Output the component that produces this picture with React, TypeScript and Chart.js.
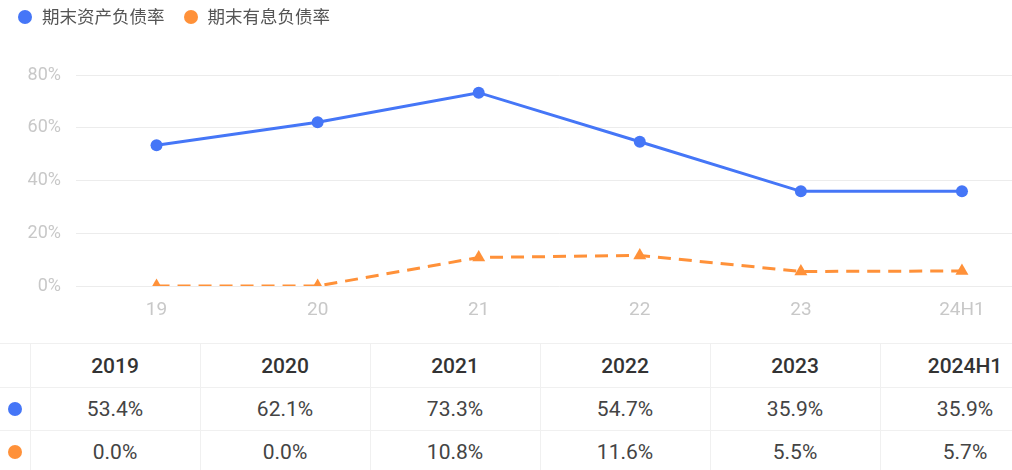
import React, { useEffect, useRef } from "react";
import { Chart, registerables } from "chart.js";

Chart.register(...registerables);

const xLabels = ["19", "20", "21", "22", "23", "24H1"];
const tableHeaders = ["2019", "2020", "2021", "2022", "2023", "2024H1"];
const assetDebtRatio = [53.4, 62.1, 73.3, 54.7, 35.9, 35.9];
const interestDebtRatio = [0.0, 0.0, 10.8, 11.6, 5.5, 5.7];
const seriesNames = ["期末资产负债率", "期末有息负债率"];
const yTicks = [0, 20, 40, 60, 80];

const BLUE = "#4576F7";
const ORANGE = "#FF9139";
const FONT = "Roboto, 'Noto Sans CJK SC', sans-serif";

export default function App() {
  const ref = useRef<HTMLCanvasElement>(null);

  useEffect(() => {
    document.body.style.margin = "0";
    const chart = new Chart(ref.current!, {
      type: "line",
      data: {
        labels: xLabels,
        datasets: [
          {
            label: seriesNames[0],
            data: assetDebtRatio,
            borderColor: BLUE,
            backgroundColor: BLUE,
            borderWidth: 3,
            pointRadius: 6,
            pointStyle: "circle",
            pointBorderWidth: 0,
            tension: 0,
          },
          {
            label: seriesNames[1],
            data: interestDebtRatio,
            borderColor: ORANGE,
            backgroundColor: ORANGE,
            borderWidth: 3,
            borderDash: [13, 8],
            pointRadius: 7.5,
            pointStyle: "triangle",
            pointBorderWidth: 0,
            tension: 0,
          },
        ],
      },
      options: {
        animation: false,
        responsive: false,
        maintainAspectRatio: false,
        layout: { padding: { top: 75, right: 0, bottom: 0, left: 0 } },
        plugins: { legend: { display: false }, tooltip: { enabled: false } },
        scales: {
          x: {
            type: "category",
            offset: true,
            grid: { display: false, drawTicks: false },
            border: { display: false },
            ticks: { color: "#c8c8c8", font: { size: 19, family: FONT }, padding: 13, maxRotation: 0 },
            afterFit: (s: any) => {
              s.height = 57;
            },
          },
          y: {
            min: 0,
            max: 80,
            afterBuildTicks: (s: any) => {
              s.ticks = yTicks.map((v) => ({ value: v }));
            },
            grid: { color: "#ececec", lineWidth: 1, drawTicks: false },
            border: { display: false },
            ticks: {
              color: "#c8c8c8",
              font: { size: 18, family: FONT },
              padding: 15,
              callback: (v: any) => v + "%",
            },
            afterFit: (s: any) => {
              s.width = 76;
            },
          },
        },
      },
    });
    return () => chart.destroy();
  }, []);

  const cellBorder = "1px solid #f0f0f0";
  const rows = [
    { color: BLUE, values: assetDebtRatio },
    { color: ORANGE, values: interestDebtRatio },
  ];

  return (
    <div style={{ width: 1012, height: 470, overflow: "hidden", position: "relative", fontFamily: FONT }}>
      <div style={{ width: 1050, position: "relative" }}>
        <div style={{ position: "absolute", top: 6, left: 18, display: "flex", alignItems: "center", fontSize: 17.5, color: "#555", zIndex: 2 }}>
          {seriesNames.map((n, i) => (
            <div key={n} style={{ display: "flex", alignItems: "center", marginRight: 19 }}>
              <span style={{ width: 14, height: 14, borderRadius: "50%", background: i === 0 ? BLUE : ORANGE, display: "inline-block", marginRight: 10 }} />
              <span style={{ lineHeight: "22px" }}>{n}</span>
            </div>
          ))}
        </div>
        <canvas ref={ref} width={1050} height={343} style={{ display: "block", width: 1050, height: 343 }} />
        <table style={{ borderCollapse: "collapse", width: 1050, tableLayout: "fixed", fontFamily: FONT }}>
          <colgroup>
            <col style={{ width: 30 }} />
            {tableHeaders.map((h) => (
              <col key={h} style={{ width: 170 }} />
            ))}
          </colgroup>
          <tbody>
            <tr style={{ height: 44 }}>
              <td style={{ borderTop: cellBorder, borderBottom: cellBorder, borderRight: cellBorder }} />
              {tableHeaders.map((h) => (
                <td key={h} style={{ border: cellBorder, textAlign: "center", fontSize: 21, fontWeight: 500, color: "#333", padding: 0 }}>
                  {h}
                </td>
              ))}
            </tr>
            {rows.map((r, ri) => (
              <tr key={ri} style={{ height: 43 }}>
                <td style={{ borderTop: cellBorder, borderBottom: cellBorder, borderRight: cellBorder, padding: 0 }}>
                  <span style={{ display: "block", width: 14, height: 14, borderRadius: "50%", background: r.color, marginLeft: 8 }} />
                </td>
                {r.values.map((v, i) => (
                  <td key={i} style={{ border: cellBorder, textAlign: "center", fontSize: 21, color: "#444", padding: 0 }}>
                    {v.toFixed(1) + "%"}
                  </td>
                ))}
              </tr>
            ))}
          </tbody>
        </table>
      </div>
    </div>
  );
}
